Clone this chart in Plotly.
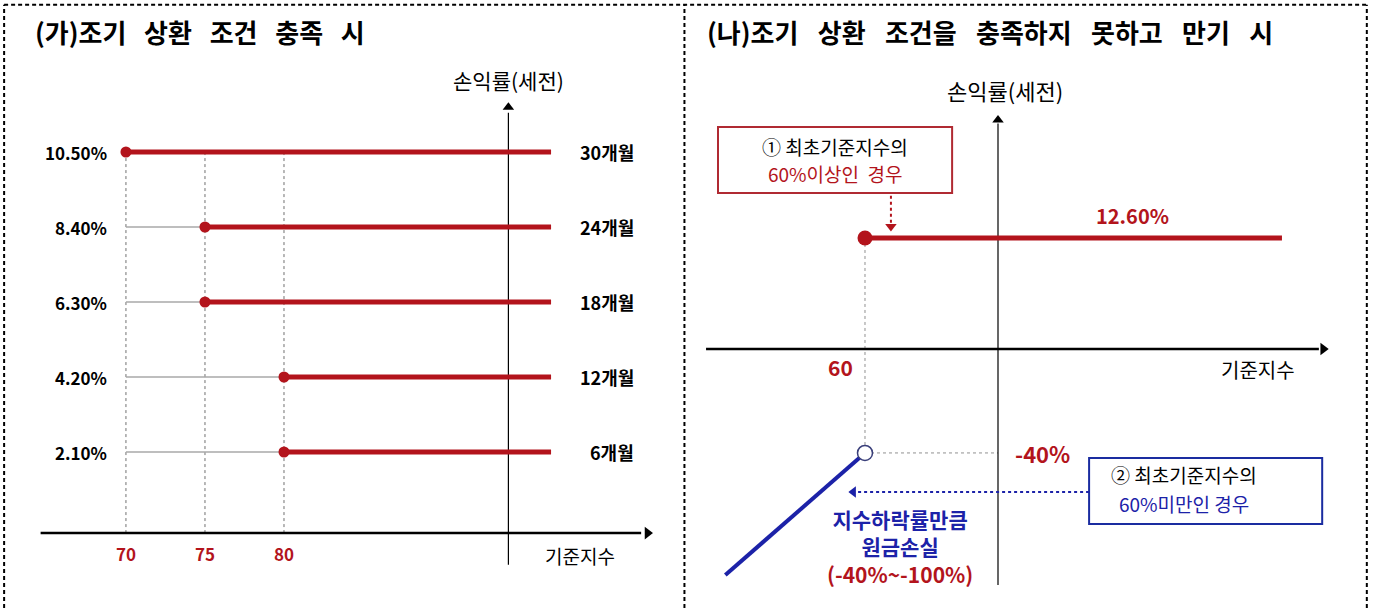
import plotly.graph_objects as go

# ---------------- data ----------------
# (가) early redemption
l_levels = [10.5, 8.4, 6.3, 4.2, 2.1]
l_level_labels = ["10.50%", "8.40%", "6.30%", "4.20%", "2.10%"]
l_periods = ["30개월", "24개월", "18개월", "12개월", "6개월"]
l_start_index = [70, 75, 75, 80, 80]
l_ticks = [70, 75, 80]
l_tick_labels = ["70", "75", "80"]
l_line_end = 96.9          # right end of payoff lines (index units)
l_axis_x = 94.2            # where the vertical axis is drawn
l_axis_y = -0.17           # where the horizontal axis is drawn

# (나) maturity
r_barrier = 60
r_gain = 12.6
r_gain_label = "12.60%"
r_loss_at_barrier = -40
r_loss_label = "-40%"
r_loss_end_index = 18
r_loss_end = -87
r_gain_end = 185.4
r_axis_x = 100
neg_scale = 0.295          # schematic compression of the loss side


def ry(v):
    return v if v >= 0 else v * neg_scale


RED = "#b3141c"
BLUE = "#1c22a8"
FONT = "Noto Sans CJK KR"

fig = go.Figure()


def seg(x, y, color, width, dash="solid", ax="x", ay="y"):
    fig.add_trace(go.Scatter(x=x, y=y, mode="lines", xaxis=ax, yaxis=ay,
                             line=dict(color=color, width=width, dash=dash),
                             hoverinfo="skip", showlegend=False))


def pts(x, y, symbol, size, color, ax="x", ay="y", line_color=None, line_width=0):
    fig.add_trace(go.Scatter(x=x, y=y, mode="markers", xaxis=ax, yaxis=ay,
                             marker=dict(symbol=symbol, size=size, color=color,
                                         line=dict(color=line_color or color, width=line_width)),
                             hoverinfo="skip", showlegend=False))


annots = []


def text(x, y, s, size=15, color="black", xanchor="center", ax="x", ay="y", bold=True):
    annots.append(dict(x=x, y=y, xref=ax, yref=ay, text=s, showarrow=False,
                       xanchor=xanchor, yanchor="middle",
                       font=dict(family=FONT, size=size, color=color,
                                 weight="bold" if bold else "normal")))


# ---------- left panel ----------
top = max(l_levels)
for t in l_ticks:
    seg([t, t], [l_axis_y, top], "#707070", 1, "dot")
for lv, st in zip(l_levels, l_start_index):
    if st > min(l_ticks):
        seg([min(l_ticks), st], [lv, lv], "#a8a8a8", 1.5)
# axes
seg([64.6, 102.6], [l_axis_y, l_axis_y], "black", 2.5)
pts([103.0], [l_axis_y], "triangle-right", 11, "black")
seg([l_axis_x, l_axis_x], [-1.06, 11.6], "black", 1.2)
pts([l_axis_x], [11.75], "triangle-up", 10, "black")
# payoff lines
for lv, st in zip(l_levels, l_start_index):
    seg([st, l_line_end], [lv, lv], RED, 5)
pts(l_start_index, l_levels, "circle", 11, RED)

for lv, lab, per in zip(l_levels, l_level_labels, l_periods):
    text(68.9, lv, lab, 17, "black", "right")
    text(102.3, lv, per, 18, "black", "right")
for t, lab in zip(l_ticks, l_tick_labels):
    text(t, -0.73, lab, 17, RED)
text(98.7, -0.81, "기준지수", 19, "black", bold=False)
text(l_axis_x, 12.52, "손익률(세전)", 21, "black", bold=False)

# ---------- right panel ----------
A2 = dict(ax="x2", ay="y2")
yb = ry(r_loss_at_barrier)
seg([r_barrier, r_barrier], [r_gain, yb], "#909090", 1, "dot", **A2)
seg([r_barrier, r_axis_x], [yb, yb], "#909090", 1, "dot", **A2)
seg([12.2, 196.5], [0, 0], "black", 2.5, **A2)
pts([197.8], [0], "triangle-right", 11, "black", **A2)
seg([r_axis_x, r_axis_x], [-26.8, 25.6], "black", 1.2, **A2)
pts([r_axis_x], [26.0], "triangle-up", 10, "black", **A2)

seg([r_barrier, r_gain_end], [r_gain, r_gain], RED, 5, **A2)
pts([r_barrier], [r_gain], "circle", 15, RED, **A2)
seg([r_loss_end_index, r_barrier], [ry(r_loss_end), yb], BLUE, 4, **A2)
pts([r_barrier], [yb], "circle", 15, "white", line_color="#3a3f7a", line_width=1.5, **A2)

# dotted pointer arrows
seg([67.8, 67.8], [17.4, 14.2], RED, 2, "dot", **A2)
pts([67.8], [13.9], "triangle-down", 10, RED, **A2)
seg([127.4, 57.5], [-16.23, -16.23], BLUE, 2, "dot", **A2)
pts([56.5], [-16.23], "triangle-left", 10, BLUE, **A2)

text(140.6, 15.1, r_gain_label, 20, RED, **A2)
text(113.5, yb, r_loss_label, 22, RED, **A2)
text(52.5, -2.04, str(r_barrier), 21, RED, **A2)
text(178.2, -2.38, "기준지수", 20, "black", bold=False, **A2)
text(102.1, 29.4, "손익률(세전)", 22, "black", bold=False, **A2)

text(51.0, 22.95, "① 최초기준지수의", 19, "black", bold=False, **A2)
text(51.0, 19.9, "60%이상인\u00a0\u00a0경우", 19, RED, bold=False, **A2)
text(156.0, -14.2, "② 최초기준지수의", 19, "black", bold=False, **A2)
text(156.0, -17.5, "60%미만인 경우", 19, BLUE, bold=False, **A2)
text(70.5, -22.45, f"지수하락률만큼<br>원금손실<br><span style='color:{RED}'>(-40%~-100%)</span>",
     21, BLUE, **A2)

shapes = [
    dict(type="rect", xref="x2", yref="y2", x0=15.8, x1=86.2, y0=17.7, y1=25.2,
         line=dict(color="#b02a32", width=2), fillcolor="white", layer="below"),
    dict(type="rect", xref="x2", yref="y2", x0=127.4, x1=197.5, y0=-19.86, y1=-12.37,
         line=dict(color="#1a2ca0", width=2), fillcolor="white", layer="below"),
]
# dashed frames
dash = dict(color="black", width=2, dash="4px,3px")
for x in [0.003, 0.4985, 0.9955]:
    shapes.append(dict(type="line", xref="paper", yref="paper", x0=x, x1=x, y0=0, y1=0.992, line=dash))
shapes.append(dict(type="line", xref="paper", yref="paper", x0=0.003, x1=0.9955, y0=0.992, y1=0.992, line=dash))

sp_l = "\u00a0" * 3
sp_r = "\u00a0" * 3 + "\u200a"
annots.append(dict(x=33 / 1373, y=1 - 32 / 608, xref="paper", yref="paper", showarrow=False,
                   xanchor="left", yanchor="middle",
                   text=f"(가)조기{sp_l}상환{sp_l}조건{sp_l}충족{sp_l}시",
                   font=dict(family=FONT, size=26, color="black", weight="bold")))
annots.append(dict(x=705 / 1373, y=1 - 32 / 608, xref="paper", yref="paper", showarrow=False,
                   xanchor="left", yanchor="middle",
                   text=f"(나)조기{sp_r}상환{sp_r}조건을{sp_r}충족하지{sp_r}못하고{sp_r}만기{sp_r}시",
                   font=dict(family=FONT, size=26, color="black", weight="bold")))

ax_common = dict(visible=False, showgrid=False, zeroline=False, fixedrange=True)
fig.update_layout(
    width=1373, height=608, margin=dict(l=0, r=0, t=0, b=0),
    paper_bgcolor="white", plot_bgcolor="white",
    xaxis=dict(domain=[0, 0.5], range=[62.03, 105.47], **ax_common),
    yaxis=dict(domain=[0, 1], range=[-2.268, 14.756], **ax_common),
    xaxis2=dict(domain=[0.5, 1], range=[6.32, 212.78], anchor="y2", **ax_common),
    yaxis2=dict(domain=[0, 1], range=[-29.40, 39.61], anchor="x2", **ax_common),
    shapes=shapes, annotations=annots, showlegend=False,
)
fig.write_html("out.html", config={"displayModeBar": False},
               post_script="document.body.style.margin='0';document.body.style.overflow='hidden';")
